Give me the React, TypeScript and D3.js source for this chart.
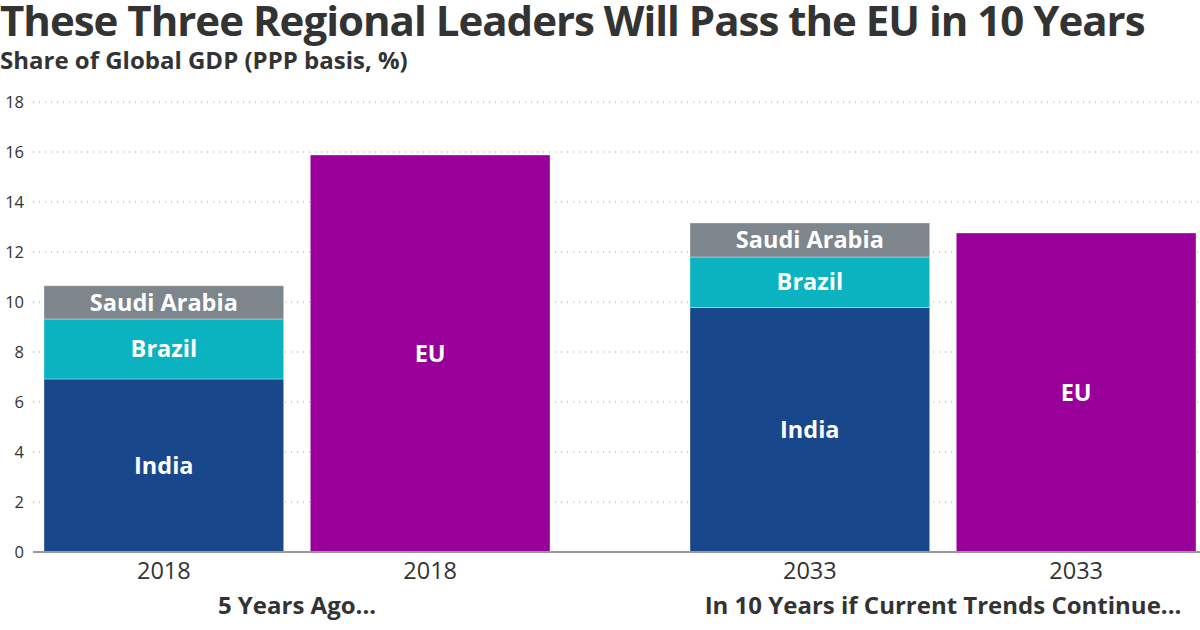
import React from "react";
import * as d3 from "d3";

const groups = ["5 Years Ago...", "In 10 Years if Current Trends Continue..."];
const years = ["2018", "2033"];
const bars = ["stack", "EU"];
const seriesNames = ["India", "Brazil", "Saudi Arabia"];
const india = [6.92, 9.78];
const brazil = [2.4, 2.02];
const saudi = [1.33, 1.36];
const eu = [15.88, 12.76];
const yTicks = [0, 2, 4, 6, 8, 10, 12, 14, 16, 18];
const colors: Record<string, string> = {
  India: "#19478c",
  Brazil: "#0bb2bf",
  "Saudi Arabia": "#7e868d",
  EU: "#990099",
};

const W = 1200;
const H = 630;
const FONT = "'Open Sans', 'Noto Sans', sans-serif";

export default function App() {
  const y = d3.scaleLinear().domain([0, 18]).range([552, 102]);
  const outer = d3.scaleBand<string>().domain(groups).range([44, 1196]).paddingInner(140 / 646);
  const inner = d3.scaleBand<string>().domain(bars).range([0, outer.bandwidth()]).paddingInner(0.1);

  const rows = years.map((yr, i) => ({ year: yr, group: groups[i], India: india[i], Brazil: brazil[i], "Saudi Arabia": saudi[i] }));
  const stacked = d3.stack<any>().keys(seriesNames)(rows);

  return (
    <svg width={W} height={H} style={{ position: "absolute", left: 0, top: 0, background: "#fff" }} fontFamily={FONT}>
      <text x={0} y={36} fontSize={42} fontWeight={700} fill="#333" letterSpacing={-1}>These Three Regional Leaders Will Pass the EU in 10 Years</text>
      <text x={0} y={69} fontSize={24} fontWeight={700} fill="#333">Share of Global GDP (PPP basis, %)</text>

      {yTicks.map((t) => (
        <g key={t}>
          {t > 0 && (
            <line x1={33} x2={W} y1={y(t)} y2={y(t)} stroke="#999" strokeWidth={1} strokeDasharray="1 5" />
          )}
          <text x={24} y={y(t)} dy="0.35em" textAnchor="end" fontSize={16.5} fill="#333">{t}</text>
        </g>
      ))}

      {rows.map((r, i) => {
        const gx = outer(r.group)!;
        const sx = gx + inner("stack")!;
        const ex = gx + inner("EU")!;
        const bw = inner.bandwidth();
        return (
          <g key={r.year}>
            {stacked.map((s) => {
              const d = s[i];
              return (
                <g key={s.key}>
                  <rect x={sx} y={y(d[1])} width={bw} height={y(d[0]) - y(d[1])} fill={colors[s.key]} stroke="rgba(255,255,255,0.35)" strokeWidth={1} />
                  <text x={sx + bw / 2} y={(y(d[0]) + y(d[1])) / 2} dy="0.35em" textAnchor="middle" fontSize={23.5} fontWeight={700} fill="#fff">{s.key}</text>
                </g>
              );
            })}
            <rect x={ex} y={y(eu[i])} width={bw} height={y(0) - y(eu[i])} fill={colors.EU} stroke="rgba(255,255,255,0.35)" strokeWidth={1} />
            <text x={ex + bw / 2} y={(y(0) + y(eu[i])) / 2} dy="0.35em" textAnchor="middle" fontSize={23.5} fontWeight={700} fill="#fff">EU</text>
            <text x={sx + bw / 2} y={579} textAnchor="middle" fontSize={23.5} fill="#333">{r.year}</text>
            <text x={ex + bw / 2} y={579} textAnchor="middle" fontSize={23.5} fill="#333">{r.year}</text>
            <text x={gx + outer.bandwidth() / 2} y={614} textAnchor="middle" fontSize={24} fontWeight={700} fill="#333">{r.group}</text>
          </g>
        );
      })}

      <line x1={33} x2={W} y1={y(0)} y2={y(0)} stroke="#999" strokeWidth={2} />
    </svg>
  );
}
